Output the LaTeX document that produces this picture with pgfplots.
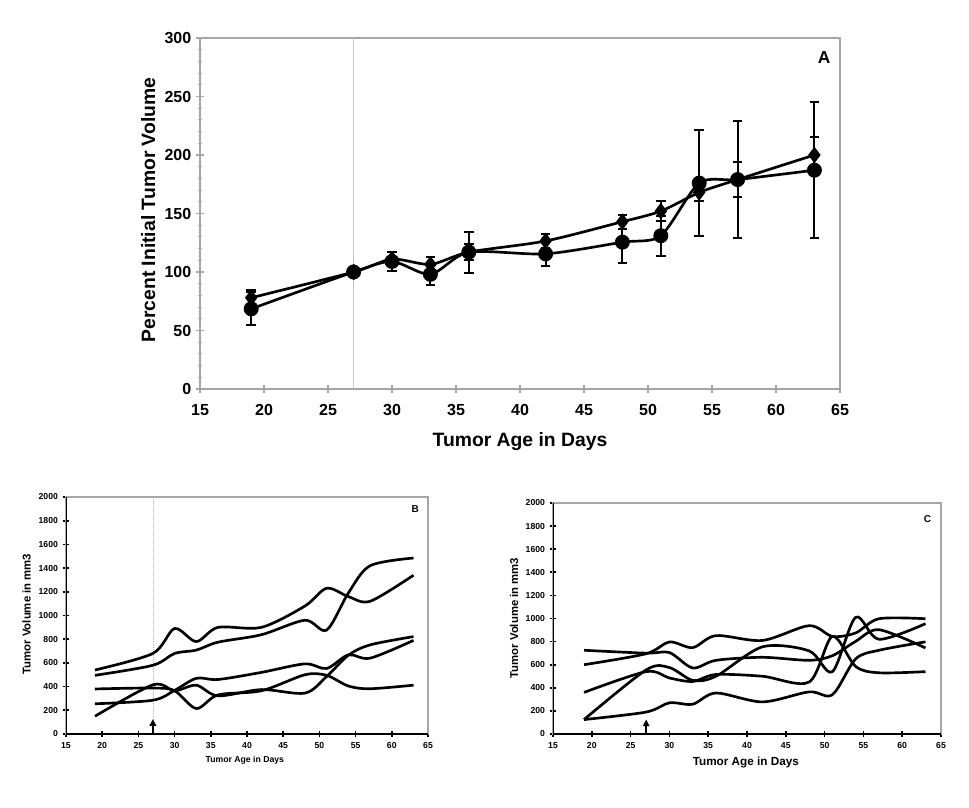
\documentclass[border=0pt]{standalone}
\usepackage{pgfplots}
\pgfplotsset{compat=1.18}
\usepackage{fontspec}
\setmainfont{Liberation Sans}
\usetikzlibrary{arrows.meta}

\pgfplotsset{
  curve/.style={smooth, tension=0.5, black, line width=2pt, mark=none},
  panelBC/.style={
    scale only axis, anchor=south west,
    xmin=15, xmax=65, ymin=0, ymax=2000,
    xtick={15,20,...,65}, ytick={0,200,...,2000},
    tick pos=left, tick align=center,
    major tick length=5pt,
    axis line style={gray!70, line width=0.8pt},
    major tick style={black, line width=1.3pt},
    /pgf/number format/assume math mode=true,
    /pgf/number format/1000 sep={},
    tick label style={font=\fontsize{6.5}{7}\selectfont\bfseries},
  }
}

\begin{document}
\begin{tikzpicture}
\path[use as bounding box] (0,0) rectangle (726.75pt,605.25pt);

% ---------------- Panel A ----------------
\begin{axis}[
  at={(150pt,313.5pt)}, anchor=south west, scale only axis,
  width=480pt, height=263.25pt,
  xmin=15, xmax=65, ymin=0, ymax=300,
  xtick={15,20,...,65}, ytick={0,50,...,300}, minor y tick num=4,
  tick pos=left, tick align=center,
  major tick length=6pt, minor tick length=3.5pt,
  axis line style={gray!70, line width=0.8pt},
  major tick style={gray!70, line width=0.8pt},
  minor tick style={gray!70, line width=0.6pt},
  /pgf/number format/assume math mode=true,
  tick label style={font=\fontsize{12}{13}\selectfont\bfseries},
  xticklabel style={yshift=-5pt},
  xlabel={Tumor Age in Days}, ylabel={Percent Initial Tumor Volume},
  xlabel style={at={(axis description cs:0.5,-0.15)}, anchor=center, font=\fontsize{14.5}{16}\selectfont\bfseries},
  ylabel style={at={(axis description cs:-0.081,0.51)}, anchor=center, font=\fontsize{14.5}{16}\selectfont\bfseries},
]
\draw[gray!45, line width=0.7pt] (axis cs:27,0) -- (axis cs:27,300);
\addplot[black, line width=2pt, smooth, tension=0.45, mark=diamond*, mark size=4.6pt,
  mark options={solid, fill=black},
  error bars/.cd, y dir=both, y explicit,
  error bar style={line width=1.5pt, black},
  error mark options={rotate=90, mark size=3.6pt, line width=1.5pt, black}]
coordinates {
 (19,78) +- (0,7)
 (27,100) +- (0,0)
 (30,111) +- (0,6)
 (33,106.5) +- (0,6)
 (36,117) +- (0,7)
 (42,126.5) +- (0,6)
 (48,143) +- (0,6)
 (51,152) +- (0,8.5)
 (54,168) +- (0,7)
 (57,179) +- (0,15)
 (63,200) +- (0,15)
};
\addplot[black, line width=2pt, smooth, tension=0.45, mark=*, mark size=4.6pt,
  mark options={solid, fill=black},
  error bars/.cd, y dir=both, y explicit,
  error bar style={line width=1.5pt, black},
  error mark options={rotate=90, mark size=3.6pt, line width=1.5pt, black}]
coordinates {
 (19,68.5) +- (0,14)
 (27,100) +- (0,0)
 (30,109) +- (0,8)
 (33,98) +- (0,9)
 (36,117) +- (0,17.5)
 (42,115.5) +- (0,10)
 (48,125.5) +- (0,18)
 (51,131) +- (0,17)
 (54,176) +- (0,45)
 (57,179) +- (0,50)
 (63,187) +- (0,58)
};
\node[font=\fontsize{13}{14}\selectfont\bfseries] at (rel axis cs:0.975,0.945) {A};
\end{axis}

% ---------------- Panel B ----------------
\begin{axis}[panelBC,
  at={(49.5pt,54.75pt)}, width=271.5pt, height=177.75pt,
  xlabel={Tumor Age in Days}, ylabel={Tumor Volume in mm3},
  xlabel style={at={(axis description cs:0.494,-0.11)}, anchor=center, font=\fontsize{6.5}{7}\selectfont\bfseries},
  ylabel style={at={(axis description cs:-0.1086,0.506)}, anchor=center, font=\fontsize{8.5}{9}\selectfont\bfseries},
]
\draw[gray!60, line width=0.5pt, densely dotted] (axis cs:27,0) -- (axis cs:27,2000);
\addplot[curve] coordinates {(19,540) (27,680) (30,890) (33,780) (36,900) (42,900) (48,1080) (51,1230) (54,1160) (57,1120) (63,1340)};
\addplot[curve] coordinates {(19,495) (27,580) (30,680) (33,708) (36,775) (42,838) (48,960) (51,877) (54,1190) (57,1420) (63,1485)};
\addplot[curve] coordinates {(19,380) (27,388) (30,365) (33,215) (36,330) (42,365) (48,500) (51,495) (54,405) (57,382) (63,412)};
\addplot[curve] coordinates {(19,150) (27,415) (30,365) (33,412) (36,322) (42,375) (48,345) (51,485) (54,665) (57,752) (63,822)};
\addplot[curve] coordinates {(19,255) (27,285) (30,368) (33,470) (36,460) (42,520) (48,592) (51,553) (54,668) (57,640) (63,790)};
\draw[-{Triangle[length=5pt,width=5pt]}, line width=1.1pt, black] (axis cs:27,0) -- (axis cs:27,125);
\draw[black, line width=1.3pt] (rel axis cs:0,1) -- (rel axis cs:0,0) -- (rel axis cs:1,0);
\node[font=\fontsize{7.5}{8}\selectfont\bfseries] at (rel axis cs:0.965,0.95) {B};
\end{axis}

% ---------------- Panel C ----------------
\begin{axis}[panelBC,
  at={(414.75pt,54.75pt)}, width=291pt, height=173.25pt,
  xlabel={Tumor Age in Days}, ylabel={Tumor Volume in mm3},
  xlabel style={at={(axis description cs:0.497,-0.124)}, anchor=center, font=\fontsize{8.8}{9}\selectfont\bfseries},
  ylabel style={at={(axis description cs:-0.1005,0.502)}, anchor=center, font=\fontsize{8.5}{9}\selectfont\bfseries},
]
\addplot[curve] coordinates {(19,725) (27,700) (30,705) (33,572) (36,638) (42,664) (48,638) (51,678) (54,802) (57,903) (63,745)};
\addplot[curve] coordinates {(19,600) (27,695) (30,797) (33,748) (36,852) (42,810) (48,938) (51,845) (54,875) (57,998) (63,998)};
\addplot[curve] coordinates {(19,360) (27,540) (30,485) (33,455) (36,515) (42,500) (48,450) (51,845) (54,585) (57,530) (63,540)};
\addplot[curve] coordinates {(19,125) (27,555) (30,575) (33,465) (36,500) (42,755) (48,720) (51,540) (54,1010) (57,820) (63,955)};
\addplot[curve] coordinates {(19,125) (27,190) (30,270) (33,258) (36,355) (42,278) (48,365) (51,340) (54,650) (57,725) (63,798)};
\draw[-{Triangle[length=5pt,width=5pt]}, line width=1.1pt, black] (axis cs:27,0) -- (axis cs:27,125);
\draw[black, line width=1.3pt] (rel axis cs:0,1) -- (rel axis cs:0,0) -- (rel axis cs:1,0);
\node[font=\fontsize{7.5}{8}\selectfont\bfseries] at (rel axis cs:0.965,0.93) {C};
\end{axis}
\end{tikzpicture}
\end{document}
